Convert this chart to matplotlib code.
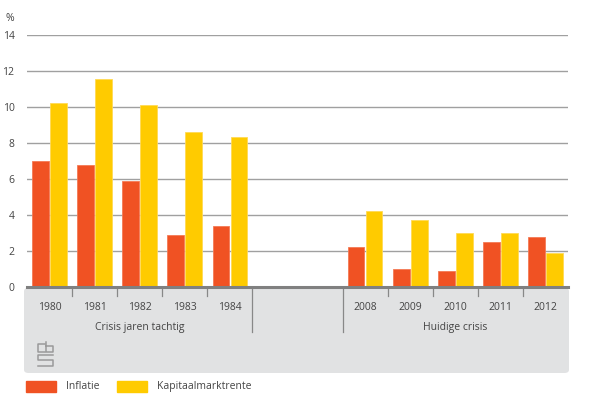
import matplotlib.pyplot as plt
from matplotlib.patches import FancyBboxPatch, Rectangle
from matplotlib.lines import Line2D
from matplotlib.transforms import blended_transform_factory

plt.rcParams["font.family"] = ["Open Sans", "DejaVu Sans"]

years = ["1980", "1981", "1982", "1983", "1984", "", "", "2008", "2009", "2010", "2011", "2012"]
inflatie = [7.0, 6.8, 5.9, 2.9, 3.4, None, None, 2.2, 1.0, 0.9, 2.5, 2.8]
kapitaal = [10.2, 11.55, 10.1, 8.6, 8.35, None, None, 4.2, 3.7, 3.0, 3.0, 1.9]
groups = ["Crisis jaren tachtig", "Huidige crisis"]

c_infl = "#F05223"
c_kap = "#FFCB00"
txt = "#444444"

fig = plt.figure(figsize=(5.9, 3.99), dpi=100)

# grey panel under the x axis
panel = FancyBboxPatch((24 / 590, 26 / 399), 545 / 590, 85 / 399,
                       boxstyle="round,pad=0,rounding_size=0.008",
                       transform=fig.transFigure, facecolor="#E1E2E3",
                       edgecolor="none", zorder=0)
fig.patches.append(panel)

# rough cbs logo in the panel
def px_line(xs, ys):
    fig.lines.append(Line2D([x / 590 for x in xs], [(399 - y) / 399 for y in ys],
                            transform=fig.transFigure, color="#9A9A9A", lw=1.1,
                            zorder=1))

px_line([45, 38, 38, 45], [344, 344, 352, 352])
px_line([46, 46, 53, 53, 46], [342, 352, 352, 346, 346])
px_line([53, 38, 38, 53, 53, 38], [355, 355, 360, 360, 366, 366])

ax = fig.add_axes([27 / 590, 112 / 399, 541 / 590, 252 / 399])
ax.set_facecolor("none")
ax.set_zorder(2)

idx = [i for i, v in enumerate(inflatie) if v is not None]
w = 0.37
ax.bar([i - 0.2 for i in idx], [inflatie[i] for i in idx], width=w,
       color=c_infl, edgecolor="#F47A55", linewidth=0.6, zorder=3)
ax.bar([i + 0.2 for i in idx], [kapitaal[i] for i in idx], width=w,
       color=c_kap, edgecolor="#FFDA55", linewidth=0.6, zorder=3)

ax.set_xlim(-0.5, len(years) - 0.5)
ax.set_ylim(0, 14)
ax.set_yticks(range(0, 15, 2))
ax.yaxis.grid(True, color="#A0A0A0", linewidth=1.0)
ax.set_axisbelow(True)
ax.tick_params(axis="y", length=0, pad=9, labelsize=7.5, labelcolor=txt)
ax.set_xticks([])
for s in ["top", "right", "left"]:
    ax.spines[s].set_visible(False)
ax.spines["bottom"].set_color("#808080")
ax.spines["bottom"].set_linewidth(2.2)
ax.spines["bottom"].set_zorder(4)

ax.text(-0.031, 1.065, "%", transform=ax.transAxes, ha="center", va="center",
        fontsize=7.5, color=txt)

tr = blended_transform_factory(ax.transData, ax.transAxes)
for i, y in enumerate(years):
    if y:
        ax.text(i, -0.083, y, transform=tr, ha="center", va="center",
                fontsize=7.5, color=txt)
# separators
for b in [0.5, 1.5, 2.5, 3.5, 7.5, 8.5, 9.5, 10.5]:
    ax.plot([b, b], [0, -0.036], transform=tr, color="#888888", lw=0.9,
            clip_on=False)
for b in [4.5, 6.5]:
    ax.plot([b, b], [0, -0.18], transform=tr, color="#888888", lw=0.9,
            clip_on=False)
ax.text(2, -0.16, groups[0], transform=tr, ha="center", va="center",
        fontsize=7.5, color=txt)
ax.text(9, -0.16, groups[1], transform=tr, ha="center", va="center",
        fontsize=7.5, color=txt)

# legend
fig.patches.append(Rectangle((26 / 590, 7 / 399), 30 / 590, 11 / 399,
                             transform=fig.transFigure, color=c_infl))
fig.text(66 / 590, 12.5 / 399, "Inflatie", va="center", fontsize=7.5, color=txt)
fig.patches.append(Rectangle((117 / 590, 7 / 399), 30 / 590, 11 / 399,
                             transform=fig.transFigure, color=c_kap))
fig.text(157 / 590, 12.5 / 399, "Kapitaalmarktrente", va="center",
         fontsize=7.5, color=txt)

fig.savefig("out.png", dpi=100)
